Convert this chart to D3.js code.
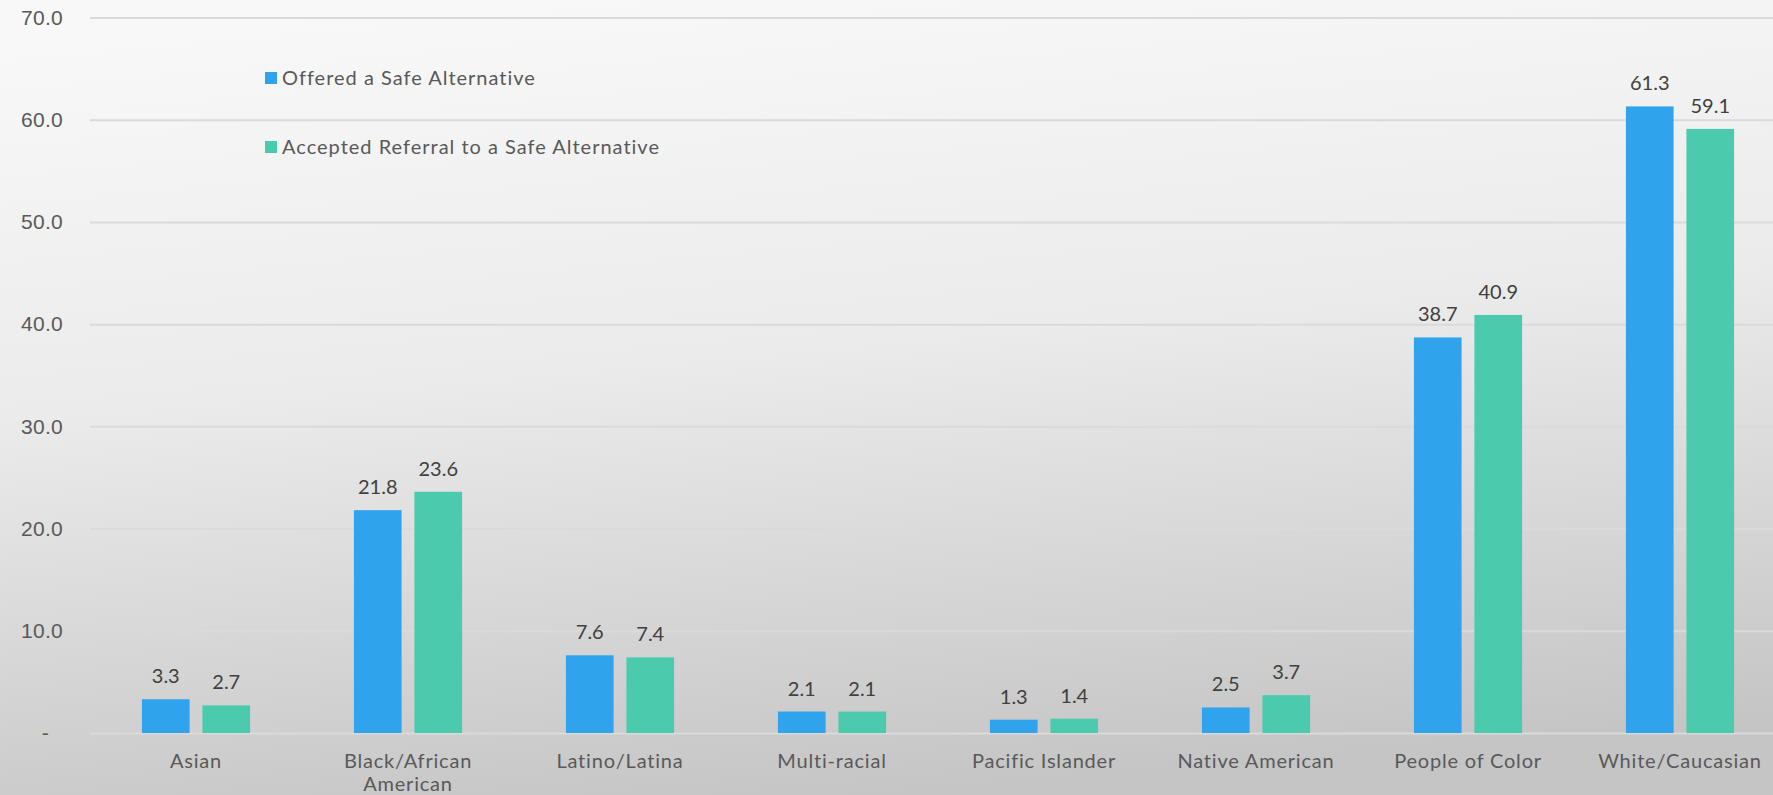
<!DOCTYPE html>
<html>
<head>
<meta charset="utf-8">
<script src="https://cdn.jsdelivr.net/npm/d3@7"></script>
<style>
  html, body { margin: 0; padding: 0; overflow: hidden; }
  body { width: 1773px; height: 795px; }
  svg { display: block; font-family: Lato, "Noto Sans", sans-serif; }
  .axis text { fill: #595959; font-size: 21px; letter-spacing: 0.3px; }
  .axis line { stroke: #dadada; stroke-width: 2; }
  .label { fill: #404040; font-size: 20px; }
  .cat { fill: #595959; font-size: 20px; letter-spacing: 0.8px; }
  .legend text { fill: #595959; font-size: 20px; letter-spacing: 1px; }
</style>
</head>
<body>
<div id="chart"></div>
<script>
const categories = ['Asian', 'Black/African American', 'Latino/Latina', 'Multi-racial',
  'Pacific Islander', 'Native American', 'People of Color', 'White/Caucasian'];
const seriesNames = ['Offered a Safe Alternative', 'Accepted Referral to a Safe Alternative'];
const offered = [3.3, 21.8, 7.6, 2.1, 1.3, 2.5, 38.7, 61.3];
const accepted = [2.7, 23.6, 7.4, 2.1, 1.4, 3.7, 40.9, 59.1];
const yTicks = [0, 10, 20, 30, 40, 50, 60, 70];
const colors = ['#2fa3ec', '#4bcaae'];

const width = 1773, height = 795;
const margin = {top: 17.5, left: 90, bottom: 733};
const plotRight = 1786;

const rows = categories.map((c, i) => ({category: c, values: [offered[i], accepted[i]]}));

const svg = d3.select('#chart').append('svg')
    .attr('width', width)
    .attr('height', height);

// soft grey background, light at the top, darker at the bottom
const grad = svg.append('defs').append('linearGradient')
    .attr('id', 'bg')
    .attr('x1', 0.3).attr('y1', 0).attr('x2', 0.5).attr('y2', 1);
grad.append('stop').attr('offset', '0%').attr('stop-color', '#f8f8f8');
grad.append('stop').attr('offset', '45%').attr('stop-color', '#ebebeb');
grad.append('stop').attr('offset', '100%').attr('stop-color', '#c5c5c5');

svg.append('rect')
    .attr('width', width)
    .attr('height', height)
    .attr('fill', 'url(#bg)');

const x = d3.scaleBand()
    .domain(categories)
    .range([margin.left, plotRight]);

const xInner = d3.scaleBand()
    .domain(seriesNames)
    .range([0, x.bandwidth()])
    .paddingInner(0.212)
    .paddingOuter(0.858);

const y = d3.scaleLinear()
    .domain([0, 70])
    .range([margin.bottom, margin.top]);

const yAxis = d3.axisLeft(y)
    .tickValues(yTicks)
    .tickSize(-(plotRight - margin.left))
    .tickPadding(27)
    .tickFormat(d => d === 0 ? '-' : d3.format('.1f')(d));

const yAxisG = svg.append('g')
    .attr('class', 'axis')
    .attr('transform', `translate(${margin.left},0)`)
    .call(yAxis)
    .call(g => g.select('.domain').remove());

// the zero is shown as a dash with trailing space, like Excel accounting format
yAxisG.selectAll('.tick')
    .filter(d => d === 0)
    .select('text')
    .attr('dx', -14);

// bars
const group = svg.selectAll('.group')
    .data(rows)
  .join('g')
    .attr('class', 'group')
    .attr('transform', d => `translate(${x(d.category)},0)`);

group.selectAll('rect')
    .data(d => d.values.map((v, i) => ({series: seriesNames[i], value: v, i: i})))
  .join('rect')
    .attr('x', d => xInner(d.series))
    .attr('width', xInner.bandwidth())
    .attr('y', d => y(d.value))
    .attr('height', d => y(0) - y(d.value))
    .attr('fill', d => colors[d.i]);

group.selectAll('.label')
    .data(d => d.values.map((v, i) => ({series: seriesNames[i], value: v})))
  .join('text')
    .attr('class', 'label')
    .attr('text-anchor', 'middle')
    .attr('x', d => xInner(d.series) + xInner.bandwidth() / 2)
    .attr('y', d => y(d.value) - 16)
    .text(d => d3.format('.1f')(d.value));

// category labels, wrapped when too wide
const catText = svg.selectAll('.cat')
    .data(categories)
  .join('text')
    .attr('class', 'cat')
    .attr('text-anchor', 'middle')
    .attr('x', d => x(d) + x.bandwidth() / 2)
    .attr('y', 768);

catText.each(function(d) {
  const text = d3.select(this);
  const cx = text.attr('x');
  const words = d.split(' ');
  let line = [];
  let tspan = text.append('tspan').attr('x', cx);
  words.forEach(w => {
    line.push(w);
    tspan.text(line.join(' '));
    if (tspan.node().getComputedTextLength() > 190 && line.length > 1) {
      line.pop();
      tspan.text(line.join(' '));
      line = [w];
      tspan = text.append('tspan').attr('x', cx).attr('dy', 23).text(w);
    }
  });
});

// legend
const legend = svg.append('g')
    .attr('class', 'legend')
    .attr('transform', 'translate(265,0)');

const legendItem = legend.selectAll('g')
    .data(seriesNames)
  .join('g')
    .attr('transform', (d, i) => `translate(0,${i === 0 ? 78 : 147})`);

legendItem.append('rect')
    .attr('y', -6)
    .attr('width', 12)
    .attr('height', 12)
    .attr('fill', (d, i) => colors[i]);

legendItem.append('text')
    .attr('x', 17)
    .attr('y', 0)
    .attr('dy', '0.35em')
    .text(d => d);
</script>
</body>
</html>
